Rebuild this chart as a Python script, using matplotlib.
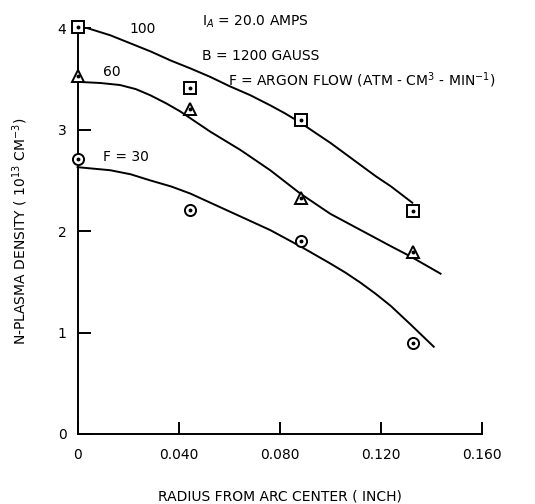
import matplotlib
matplotlib.use("Agg")
import matplotlib.pyplot as plt

plt.rcParams['font.family'] = ['DejaVu Sans']

# measured densities at four radii
radius = [0.0, 0.0445, 0.0884, 0.1325]
dens_100 = [4.01, 3.41, 3.10, 2.20]
dens_60 = [3.53, 3.20, 2.33, 1.79]
dens_30 = [2.71, 2.21, 1.90, 0.90]

# hand-faired curves through each flow
fit_100_x = [0.004, 0.013, 0.021, 0.029, 0.037, 0.045, 0.0525, 0.060, 0.0683, 0.0762, 0.0821, 0.0881,
             0.094, 0.100, 0.106, 0.112, 0.118, 0.124, 0.1324]
fit_100_y = [4.00, 3.93, 3.85, 3.77, 3.68, 3.60, 3.52, 3.43, 3.34, 3.24, 3.16, 3.07,
             2.97, 2.87, 2.76, 2.65, 2.54, 2.44, 2.28]
fit_60_x = [0.001, 0.009, 0.0168, 0.023, 0.0287, 0.035, 0.0406, 0.0525, 0.0644, 0.0762, 0.0881,
            0.100, 0.112, 0.124, 0.1317, 0.1436]
fit_60_y = [3.47, 3.46, 3.44, 3.40, 3.34, 3.26, 3.18, 2.98, 2.80, 2.60, 2.37,
            2.17, 2.01, 1.85, 1.75, 1.58]
fit_30_x = [0.0, 0.0129, 0.021, 0.0287, 0.037, 0.0446, 0.0525, 0.0604, 0.0683, 0.0762, 0.0881,
            0.100, 0.106, 0.112, 0.118, 0.124, 0.1317, 0.1409]
fit_30_y = [2.63, 2.60, 2.56, 2.50, 2.44, 2.37, 2.28, 2.19, 2.10, 2.01, 1.85,
            1.68, 1.59, 1.49, 1.38, 1.26, 1.08, 0.86]

xticks = [0, 0.040, 0.080, 0.120, 0.160]
xtick_labels = ['0', '0.040', '0.080', '0.120', '0.160']
yticks = [0, 1, 2, 3, 4]

fig = plt.figure(figsize=(5.35, 5.04), dpi=100)
ax = fig.add_axes([0.145, 0.139, 0.756, 0.805])

for fx, fy in [(fit_100_x, fit_100_y), (fit_60_x, fit_60_y), (fit_30_x, fit_30_y)]:
    ax.plot(fx, fy, color='black', lw=1.4, clip_on=False)

for vals, mk in [(dens_100, 's'), (dens_60, '^'), (dens_30, 'o')]:
    ax.plot(radius, vals, linestyle='none', marker=mk, ms=8, mfc='white',
            mec='black', mew=1.4, clip_on=False, zorder=3)
    ax.plot(radius, vals, linestyle='none', marker='o', ms=1.8, color='black',
            clip_on=False, zorder=4)

ax.set_xlim(0, 0.160)
ax.set_ylim(0, 4)
ax.set_xticks(xticks)
ax.set_xticklabels(xtick_labels)
ax.set_yticks(yticks)
for s in ['top', 'right']:
    ax.spines[s].set_visible(False)
for s in ['left', 'bottom']:
    ax.spines[s].set_linewidth(1.4)
ax.tick_params(direction='in', length=9, width=1.4, labelsize=10, pad=8)
ax.tick_params(axis='x', pad=10)

ax.set_xlabel('RADIUS FROM ARC CENTER ( INCH)', fontsize=10, labelpad=20)
ax.set_ylabel('N-PLASMA DENSITY ( 10$^{13}$ CM$^{-3}$)', fontsize=10, labelpad=20)

ax.text(0.0206, 3.99, '100', fontsize=10, va='center')
ax.text(0.0101, 3.57, '60', fontsize=10, va='center')
ax.text(0.0101, 2.73, 'F = 30', fontsize=10, va='center')

ax.text(0.0493, 4.06, 'I$_A$ = 20.0 AMPS', fontsize=10, va='center')
ax.text(0.0493, 3.73, 'B = 1200 GAUSS', fontsize=10, va='center')
ax.text(0.0595, 3.49, 'F = ARGON FLOW (ATM - CM$^3$ - MIN$^{-1}$)', fontsize=10, va='center')

fig.savefig('out.png', dpi=100)
